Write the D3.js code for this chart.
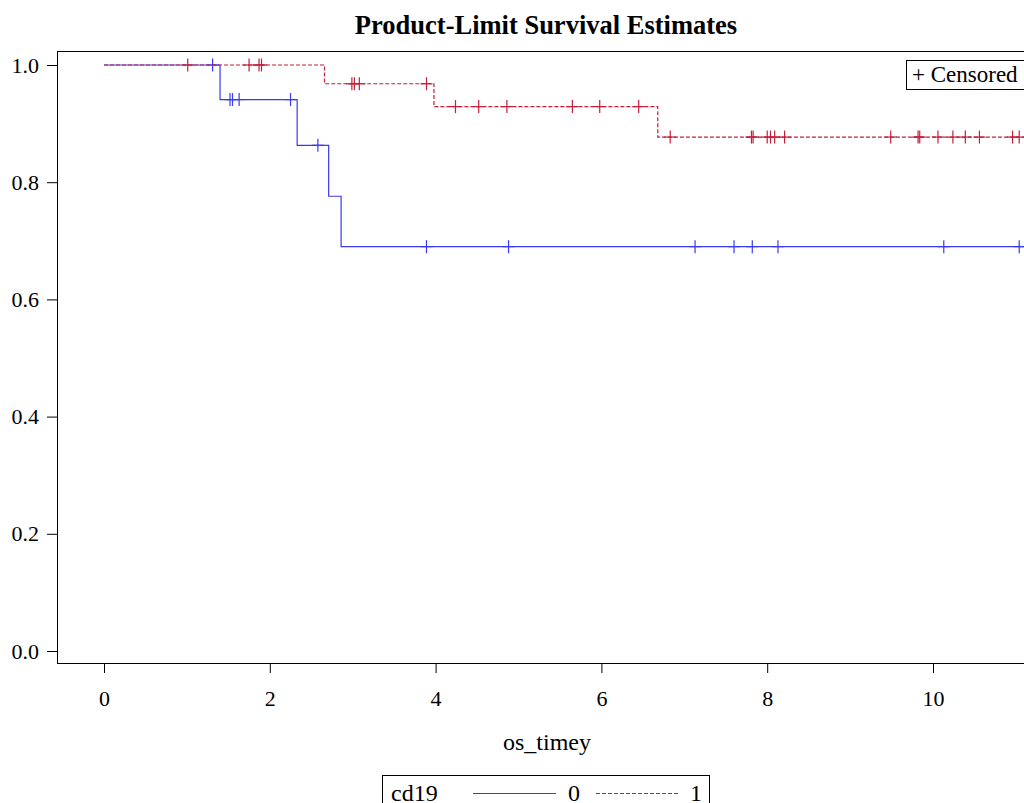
<!DOCTYPE html>
<html><head><meta charset="utf-8">
<script src="https://cdn.jsdelivr.net/npm/d3@7"></script>
<style>body{margin:0;background:#fff}svg{display:block}</style>
</head><body>
<svg id="c" width="1024" height="803"></svg>
<script>
const groupLabels = ["0", "1"];
const xTicks = [0, 2, 4, 6, 8, 10];
const yTicks = [0, 0.2, 0.4, 0.6, 0.8, 1.0];
// cd19 = 0
const times0 = [0, 1.40, 2.33, 2.71, 2.86];
const surv0  = [1, 0.941, 0.863, 0.776, 0.690];
const cens0  = [1.31, 1.52, 1.55, 1.63, 2.25, 2.58, 3.89, 4.88, 7.13, 7.60, 7.82, 8.13, 10.13, 11.04];
// cd19 = 1
const times1 = [0, 2.66, 3.98, 6.68];
const surv1  = [1, 0.968, 0.929, 0.877];
const cens1  = [1.01, 1.75, 1.87, 1.90, 2.99, 3.02, 3.08, 3.89, 4.24, 4.52, 4.86, 5.65, 5.98, 6.45,
                6.83, 7.81, 7.83, 8.00, 8.04, 8.09, 8.21, 9.49, 9.82, 9.84, 10.06, 10.24, 10.39, 10.56, 10.96, 11.04];
const endTime = 11.4;

const svg = d3.select("#c");
const font = "'Liberation Serif', 'Times New Roman', serif";
const F = {left: 57, top: 51, right: 1040, bottom: 663};
const x = d3.scaleLinear().domain([0, 10]).range([104, 933]);
const y = d3.scaleLinear().domain([0, 1]).range([651, 65]);

svg.append("text").attr("x", 546).attr("y", 34).attr("text-anchor", "middle")
  .style("font-family", font).attr("font-weight", "bold").attr("font-size", 26.5)
  .text("Product-Limit Survival Estimates");

svg.append("defs").append("clipPath").attr("id", "clip").append("rect")
  .attr("x", F.left).attr("y", F.top).attr("width", F.right - F.left).attr("height", F.bottom - F.top);

const yAxis = svg.append("g").attr("transform", `translate(${F.left},0)`)
  .call(d3.axisLeft(y).tickValues(yTicks).tickFormat(d3.format(".1f")).tickSize(10).tickPadding(8));
const xAxis = svg.append("g").attr("transform", `translate(0,${F.bottom})`)
  .call(d3.axisBottom(x).tickValues(xTicks).tickFormat(d3.format("d")).tickSize(10).tickPadding(17));
[yAxis, xAxis].forEach(a => {
  a.attr("font-family", null).attr("font-size", null);
  a.select(".domain").remove();
  a.selectAll("text").style("font-family", font).attr("font-size", 22).attr("fill", "#000");
  a.selectAll("line").attr("stroke", "#000");
});

svg.append("text").attr("x", 547).attr("y", 750).attr("text-anchor", "middle")
  .style("font-family", font).attr("font-size", 24).text("os_timey");

const plot = svg.append("g").attr("clip-path", "url(#clip)");

const series = [
  {times: times0, surv: surv0, cens: cens0, color: "#3a3af0", dash: null},
  {times: times1, surv: surv1, cens: cens1, color: "#c41e3a", dash: "4,2"}
];
const line = d3.line().x(d => x(d[0])).y(d => y(d[1])).curve(d3.curveStepAfter);
series.forEach(s => {
  const pts = s.times.map((t, i) => [t, s.surv[i]]);
  pts.push([endTime, s.surv[s.surv.length - 1]]);
  plot.append("path").attr("d", line(pts)).attr("fill", "none")
    .attr("stroke", s.color).attr("stroke-width", 1.2)
    .attr("stroke-dasharray", s.dash);
  const sAt = t => s.surv[d3.bisectRight(s.times, t) - 1];
  const g = plot.append("g").attr("stroke", s.color).attr("stroke-width", 1.2);
  s.cens.forEach(t => {
    const cx = x(t), cy = y(sAt(t));
    g.append("line").attr("x1", cx).attr("x2", cx).attr("y1", cy - 6.5).attr("y2", cy + 6.5);
    g.append("line").attr("x1", cx - 6).attr("x2", cx + 6).attr("y1", cy).attr("y2", cy);
  });
});

svg.append("rect").attr("x", F.left + 0.5).attr("y", F.top + 0.5)
  .attr("width", F.right - F.left).attr("height", F.bottom - F.top)
  .attr("fill", "none").attr("stroke", "#000").attr("stroke-width", 1);

// Censored box
svg.append("rect").attr("x", 906.5).attr("y", 60.5).attr("width", 130).attr("height", 29)
  .attr("fill", "#fff").attr("stroke", "#000");
svg.append("text").attr("x", 912).attr("y", 82).style("font-family", font).attr("font-size", 23)
  .text("+ Censored");

// bottom legend
const leg = svg.append("g");
leg.append("rect").attr("x", 382.5).attr("y", 775.5).attr("width", 327).attr("height", 40)
  .attr("fill", "#fff").attr("stroke", "#000");
leg.append("text").attr("x", 391).attr("y", 801).style("font-family", font).attr("font-size", 24).text("cd19");
[[473, 556, 568], [596, 678, 690]].forEach(([a, b, tx], i) => {
  leg.append("line").attr("x1", a).attr("x2", b).attr("y1", 793.5).attr("y2", 793.5)
    .attr("stroke", series[i].color).attr("stroke-width", 1.2).attr("stroke-dasharray", series[i].dash);
  leg.append("text").attr("x", tx).attr("y", 801).style("font-family", font).attr("font-size", 24).text(groupLabels[i]);
});
</script>
</body></html>
